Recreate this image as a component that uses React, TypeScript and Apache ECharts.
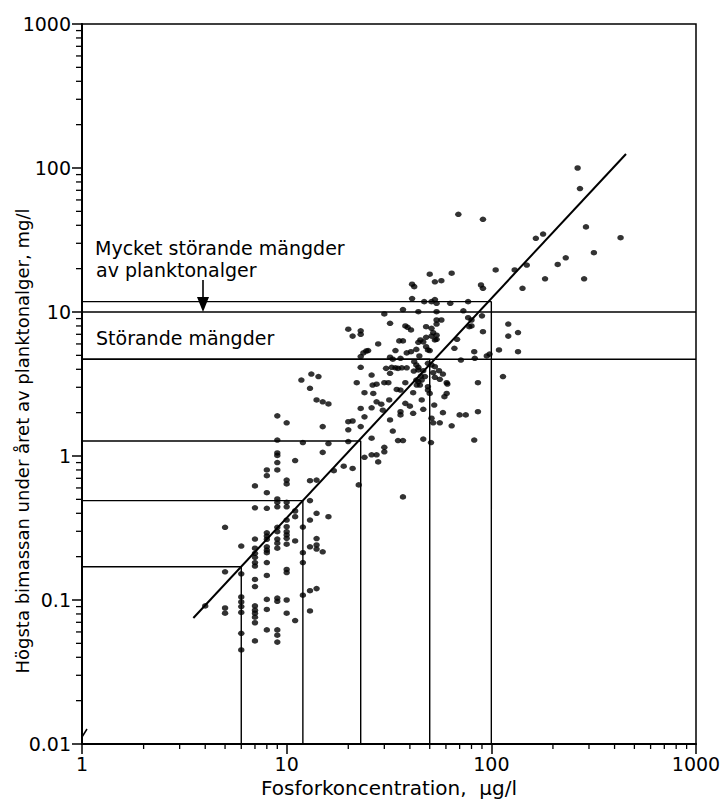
import React, { useEffect, useRef } from "react";
import * as echarts from "echarts";

// Axis tick values
const xTicks = [1, 10, 100, 1000];
const yTicks = [0.01, 0.1, 1, 10, 100, 1000];

// Scatter: [Fosforkoncentration µg/l, högsta biomassa mg/l]
const lowPhosphorus: number[][] = [
  [9, 1.9], [10, 1.7], [9, 1.29], [9, 1.05], [9, 1.01], [9, 0.9], [11, 0.93], [9, 0.8], [8, 0.8], [8, 0.73],
  [10, 0.68], [10, 0.64], [7, 0.62], [8, 0.556], [9, 0.503], [9, 0.477], [9, 0.444], [10, 0.477], [10, 0.444],
  [7, 0.437], [8, 0.433], [11, 0.415], [11, 0.379], [13, 0.49], [14, 0.4], [16, 0.379], [13, 0.359], [10, 0.359],
  [5, 0.32], [9, 0.32], [9, 0.298], [10, 0.323], [10, 0.298], [10, 0.283], [10, 0.268], [8, 0.293], [8, 0.278],
  [8, 0.264], [9, 0.265], [9, 0.248], [9, 0.229], [10, 0.244], [11, 0.257], [7, 0.265], [8, 0.234], [8, 0.222],
  [8, 0.213], [7, 0.229], [7, 0.211], [7, 0.198], [7, 0.182], [7, 0.172], [6, 0.237], [12, 0.321], [12, 0.213],
  [12, 0.182], [13, 0.234], [14, 0.241], [14, 0.226], [15, 0.216], [14, 0.267], [8, 0.182], [8, 0.148], [10, 0.163],
  [10, 0.155], [5, 0.157], [6, 0.152], [7, 0.139], [7, 0.124], [12, 0.108], [13, 0.116], [14, 0.12], [6, 0.105],
  [6, 0.097], [6, 0.09], [6, 0.082], [8, 0.101], [8, 0.086], [9, 0.103], [9, 0.098], [10, 0.1], [7, 0.091],
  [7, 0.085], [7, 0.081], [7, 0.076], [7, 0.0695], [5, 0.088], [5, 0.081], [10, 0.081], [11, 0.072], [13, 0.084],
  [4, 0.091], [6, 0.0587], [8, 0.062], [9, 0.062], [9, 0.057], [9, 0.051], [7, 0.052], [6, 0.045],
];

const midHigh: number[][] = [
  [50, 18.3], [64, 18.6], [105, 19.6], [130, 19.6], [149, 21.2], [183, 17], [53, 16.2], [57, 16.5], [41, 15.6],
  [42, 15], [89, 15.4], [91, 14.6], [142, 14.6], [41, 12.4], [47, 11.8], [51, 11.8], [53, 12.2], [54, 11.5],
  [63, 11.5], [77, 11.8], [37, 10.4], [44, 10.05], [54, 10.05], [73, 10.2], [30, 9.7], [77, 9.13], [80, 8.8],
  [90, 9.4], [54, 8.8], [57, 8.8], [54, 8.25], [32, 8.35], [38, 8.0], [39, 7.83], [40.5, 7.5], [48, 7.9],
  [51, 7.7], [52, 7.18], [80, 8.0], [78, 7.9], [20, 7.6], [21, 6.8], [23, 7.4], [23, 7.0], [91, 7.3], [121, 8.25],
  [135, 7.2], [121, 6.8], [51, 6.8], [54, 6.9], [54, 6.46], [53, 6.4], [48, 6.67], [45, 6.4], [44, 6.16],
  [46.5, 6.2], [35.5, 6.3], [37, 6.3], [68, 6.46], [28, 6.0], [48, 5.74], [49, 5.45], [50, 5.4], [66, 5.6],
  [25, 5.4], [24.5, 5.36], [43, 5.5], [40.5, 5.3], [38.6, 5.2], [34, 5.4], [82.5, 5.3], [109, 5.45], [135, 5.3],
  [23, 4.9], [23.7, 5.2], [32, 4.85], [33, 4.7], [36, 4.77], [44.5, 4.95], [71, 4.64], [83, 4.77], [95, 4.95],
  [98, 5.1], [42, 4.52], [43, 4.29], [44, 4.13], [49, 4.4], [51, 4.29], [53, 4.17], [23, 4.13], [30.6, 4.06],
  [32.6, 4.13], [34, 4.1], [35, 4.06], [36.5, 4.1], [38.6, 4.1], [41.8, 3.89], [44, 3.96], [46.5, 3.91],
  [52, 3.79], [55.5, 3.91], [58, 3.71],
];

const midLow: number[][] = [
  [11.8, 3.37], [13.2, 3.71], [14.3, 3.56], [26, 3.65], [32, 3.75], [45.3, 3.59], [47.4, 3.56], [45.7, 3.37],
  [53, 3.52], [56, 3.41], [60.5, 3.23], [114, 3.56], [13, 2.95], [22, 3.23], [26.3, 3.11], [27.5, 3.15],
  [30, 3.23], [31.4, 3.23], [43, 3.37], [44, 3.28], [44.8, 3.11], [43.2, 3.11], [49, 3.03], [61, 3.16],
  [86, 3.23], [38, 3.23], [24, 2.75], [26.5, 2.72], [34.5, 2.9], [36, 2.87], [41.5, 2.75], [49, 2.87],
  [50, 2.72], [60.5, 2.72], [59, 2.58], [14, 2.45], [15, 2.38], [16, 2.3], [23, 2.14], [26, 2.16],
  [27.5, 2.38], [29, 2.29], [29.5, 2.08], [31.7, 2.45], [38, 2.32], [40, 2.22], [36, 2.03], [36, 1.93],
  [41.5, 1.98], [45.7, 2.45], [46.5, 2.11], [52.6, 2.26], [58, 2.0], [70, 1.93], [75, 1.93], [86, 2.03],
  [15, 1.6], [20, 1.73], [20, 1.52], [21, 1.75], [24, 1.87], [23, 1.6], [32, 1.78], [33, 1.49], [51, 1.83],
  [52, 1.7], [56, 1.7], [64, 1.62], [35, 1.28], [37, 1.28], [46.5, 1.31], [50.7, 1.24], [82.5, 1.29],
  [26, 1.33], [20, 1.26], [12, 1.24], [16, 1.22], [15, 1.06], [26, 1.02], [27.5, 1.02], [30, 1.15],
  [30, 1.07], [24, 0.98], [28, 0.91], [17, 0.79], [19, 0.85], [21, 0.82], [22.5, 0.63], [13, 0.674],
  [14, 0.68], [37, 0.52],
];

const highPhosphorus: number[][] = [
  [264, 100], [271, 72], [69, 47.7], [91, 44], [290, 39], [165, 32.5], [179, 34.8], [428, 32.8],
  [317, 25.8], [231, 23.8], [211, 21.4], [284, 17],
];

// Regression line end points
const regressionLine: number[][] = [[3.5, 0.075], [455, 125]];

// Guide lines: phosphorus value and corresponding biomass on the regression line
const guidePhosphorus = [6, 12, 23, 50, 100];
const guideBiomass = [0.17, 0.49, 1.27, 4.7, 11.8];
// Full-width limits
const limitLevels = [10, 4.7];

// Minor tick multipliers within each decade
const minorSteps = [2, 3, 4, 5, 6, 7, 8, 9];

const fmt = (v: number) => String(Number(v.toPrecision(6)));

export default function App() {
  const ref = useRef<HTMLDivElement>(null);

  useEffect(() => {
    if (!ref.current) return;
    const chart = echarts.init(ref.current, undefined, { renderer: "svg" });

    const xMin = xTicks[0];
    const xMax = xTicks[xTicks.length - 1];
    const yMin = yTicks[0];
    const yMax = yTicks[yTicks.length - 1];

    const lineStyle = { color: "#000", width: 1.4 };
    const guideSeries = guidePhosphorus.map((p, i) => ({
      type: "line",
      data: [
        [xMin, guideBiomass[i]],
        [p, guideBiomass[i]],
        [p, yMin],
      ],
      symbol: "none",
      lineStyle,
      silent: true,
      z: 2,
    }));
    const limitSeries = limitLevels.map((l) => ({
      type: "line",
      data: [
        [xMin, l],
        [xMax, l],
      ],
      symbol: "none",
      lineStyle: { color: "#000", width: 1.6 },
      silent: true,
      z: 2,
    }));

    const scatterData = [...lowPhosphorus, ...midHigh, ...midLow, ...highPhosphorus];
    const font = "DejaVu Sans";

    const textStyle = (text: string, size: number, align: string) => ({
      text,
      fontFamily: font,
      fontSize: size,
      fill: "#000",
      textAlign: align,
      align,
      textVerticalAlign: "middle",
      verticalAlign: "middle",
    });

    chart.setOption({
      animation: false,
      backgroundColor: "#fff",
      grid: {
        left: 82,
        top: 24,
        right: 26,
        bottom: 55,
        show: true,
        borderColor: "#000",
        borderWidth: 1.5,
        backgroundColor: "transparent",
        containLabel: false,
        outerBoundsMode: "none",
      },
      xAxis: {
        type: "log",
        logBase: 10,
        min: xMin,
        max: xMax,
        axisLine: { show: true, lineStyle: { color: "#000", width: 2 } },
        axisTick: { show: true, inside: false, length: 10, lineStyle: { color: "#000", width: 1.5 } },
        splitLine: { show: false },
        axisLabel: {
          color: "#000",
          fontFamily: font,
          fontSize: 19,
          margin: 10,
          formatter: fmt,
          showMinLabel: true,
          showMaxLabel: true,
        },
      },
      yAxis: {
        type: "log",
        logBase: 10,
        min: yMin,
        max: yMax,
        axisLine: { show: true, lineStyle: { color: "#000", width: 2 } },
        axisTick: { show: true, inside: false, length: 10, lineStyle: { color: "#000", width: 1.5 } },
        splitLine: { show: false },
        axisLabel: {
          color: "#000",
          fontFamily: font,
          fontSize: 19,
          margin: 11,
          formatter: fmt,
          showMinLabel: true,
          showMaxLabel: true,
        },
      },
      series: [
        ...guideSeries,
        ...limitSeries,
        {
          type: "line",
          data: regressionLine,
          symbol: "none",
          lineStyle: { color: "#000", width: 2 },
          silent: true,
          z: 3,
        },
        {
          type: "scatter",
          data: scatterData,
          symbol: "circle",
          symbolSize: [6.5, 5.5],
          itemStyle: { color: "#000" },
          silent: true,
          z: 4,
        },
      ],
    });

    // Minor ticks placed through the axes' own scales
    const tickLines: any[] = [];
    for (let i = 0; i < xTicks.length - 1; i++) {
      for (const k of minorSteps) {
        const p = chart.convertToPixel({ gridIndex: 0 }, [xTicks[i] * k, yMin]) as number[];
        if (p && isFinite(p[0])) {
          tickLines.push({
            type: "line",
            silent: true,
            z: 10,
            shape: { x1: p[0], y1: p[1], x2: p[0], y2: p[1] + 5 },
            style: { stroke: "#000", lineWidth: 1.3 },
          });
        }
      }
    }
    for (let i = 0; i < yTicks.length - 1; i++) {
      for (const k of minorSteps) {
        const p = chart.convertToPixel({ gridIndex: 0 }, [xMin, yTicks[i] * k]) as number[];
        if (p && isFinite(p[1])) {
          tickLines.push({
            type: "line",
            silent: true,
            z: 10,
            shape: { x1: p[0] - 6, y1: p[1], x2: p[0], y2: p[1] },
            style: { stroke: "#000", lineWidth: 1.3 },
          });
        }
      }
    }

    chart.setOption({
      graphic: [
        ...tickLines,
        { type: "text", x: 95, y: 248, style: textStyle("Mycket störande mängder", 19, "left") },
        { type: "text", x: 96, y: 270, style: textStyle("av planktonalger", 19, "left") },
        { type: "text", x: 96, y: 338, style: textStyle("Störande mängder", 19, "left") },
        {
          type: "line",
          shape: { x1: 203, y1: 280, x2: 203, y2: 300 },
          style: { stroke: "#000", lineWidth: 1.6 },
        },
        {
          type: "polygon",
          shape: { points: [[197, 297], [209, 297], [203, 312]] },
          style: { fill: "#000" },
        },
        {
          type: "line",
          shape: { x1: 82, y1: 737, x2: 87, y2: 729 },
          style: { stroke: "#000", lineWidth: 1.5 },
        },
        { type: "text", x: 389, y: 788, style: textStyle("Fosforkoncentration,  µg/l", 20, "center") },
        {
          type: "text",
          x: 22,
          y: 441,
          rotation: Math.PI / 2,
          style: textStyle("Högsta bimassan under året av planktonalger, mg/l", 18, "center"),
        },
      ],
    });

    return () => chart.dispose();
  }, []);

  return (
    <div
      ref={ref}
      style={{ position: "absolute", left: 0, top: 0, width: 722, height: 799, background: "#fff" }}
    />
  );
}
